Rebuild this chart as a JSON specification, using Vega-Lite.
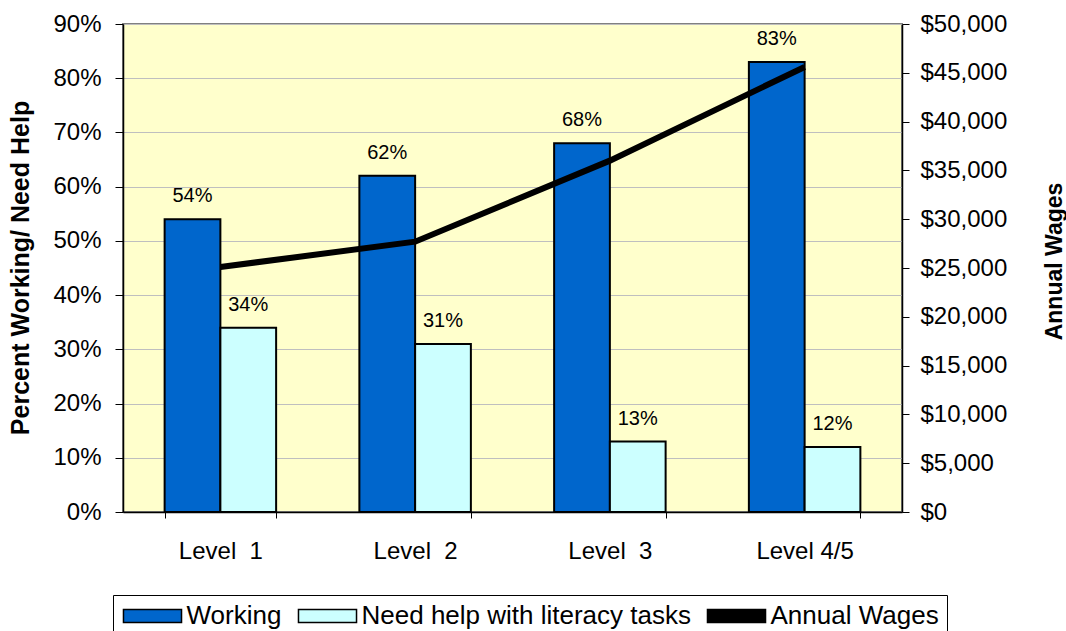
{
  "$schema": "https://vega.github.io/schema/vega-lite/v6.json",
  "width": 779,
  "height": 488,
  "autosize": {"type": "none"},
  "padding": {"left": 123, "top": 24, "right": 164, "bottom": 119},
  "background": "white",
  "config": {
    "font": "Liberation Sans",
    "view": {"fill": "#FFFFCC", "stroke": "#808080", "strokeWidth": 2},
    "axis": {"labelColor": "black", "titleColor": "black", "labelFont": "Liberation Sans", "titleFont": "Liberation Sans"}
  },
  "datasets": {
    "bars": [
      {"level": "Level\u00a0\u00a01", "series": "Working", "pct": 0.54},
      {"level": "Level\u00a0\u00a01", "series": "Need help with literacy tasks", "pct": 0.34},
      {"level": "Level\u00a0\u00a02", "series": "Working", "pct": 0.62},
      {"level": "Level\u00a0\u00a02", "series": "Need help with literacy tasks", "pct": 0.31},
      {"level": "Level\u00a0\u00a03", "series": "Working", "pct": 0.68},
      {"level": "Level\u00a0\u00a03", "series": "Need help with literacy tasks", "pct": 0.13},
      {"level": "Level 4/5", "series": "Working", "pct": 0.83},
      {"level": "Level 4/5", "series": "Need help with literacy tasks", "pct": 0.12}
    ],
    "wages": [
      {"level": "Level\u00a0\u00a01", "wages": 25100},
      {"level": "Level\u00a0\u00a02", "wages": 27700},
      {"level": "Level\u00a0\u00a03", "wages": 36000},
      {"level": "Level 4/5", "wages": 45600}
    ]
  },
  "layer": [
    {
      "data": {"name": "bars"},
      "encoding": {
        "x": {
          "field": "level", "type": "nominal", "sort": null,
          "scale": {"paddingInner": 0.4275, "paddingOuter": 0.21375},
          "axis": {
            "title": null, "tickBand": "extent", "tickSize": 6, "tickColor": "black",
            "domainColor": "black", "domainWidth": 1.5, "labelFontSize": 24,
            "labelPadding": 21, "labelAngle": 0, "grid": false
          }
        },
        "xOffset": {
          "field": "series", "type": "nominal",
          "scale": {"domain": ["Working", "Need help with literacy tasks"], "paddingInner": 0, "paddingOuter": 0}
        },
        "y": {
          "field": "pct", "type": "quantitative",
          "scale": {"domain": [0, 0.9], "nice": false},
          "axis": {
            "title": "Percent Working/ Need Help",
            "values": [0, 0.1, 0.2, 0.3, 0.4, 0.5, 0.6, 0.7, 0.8, 0.9],
            "format": ".0%", "tickSize": 8, "labelPadding": 14, "labelFontSize": 24,
            "grid": true, "gridColor": "#BFBFBF", "gridWidth": 1,
            "domainColor": "black", "domainWidth": 1.5, "tickColor": "black",
            "titleFontSize": 25, "titleFontWeight": "bold", "titleAngle": 270,
            "titleX": -95, "titleY": 243.5, "titleAlign": "center", "titleBaseline": "alphabetic"
          }
        }
      },
      "layer": [
        {
          "mark": {"type": "bar", "stroke": "black", "strokeWidth": 2},
          "encoding": {
            "color": {
              "field": "series", "type": "nominal",
              "scale": {
                "domain": ["Working", "Need help with literacy tasks", "Annual Wages"],
                "range": ["#0066CC", "#CCFFFF", "#000000"]
              },
              "legend": {
                "orient": "none", "legendX": -10, "legendY": 571, "direction": "horizontal",
                "title": null, "labelFontSize": 26, "labelColor": "black", "labelFont": "Liberation Sans",
                "labelLimit": 500,
                "strokeColor": "black", "fillColor": "white", "padding": 8,
                "symbolSize": 225, "symbolType": "M-3.87,-0.87H3.87V0.87H-3.87Z",
                "symbolOffset": 18.5, "labelOffset": 21, "columnPadding": 13,
                "encode": {
                  "symbols": {
                    "shape": {"value": {"expr": "datum.value === 'Annual Wages' ? 'M-3.47,-0.2H3.47V0.2H-3.47Z' : 'M-3.87,-0.87H3.87V0.87H-3.87Z'"}},
                    "stroke": {"value": "black"},
                    "opacity": {"value": 1}
                  }
                }
              }
            }
          }
        },
        {
          "mark": {"type": "text", "dy": -17, "baseline": "alphabetic", "fontSize": 20, "color": "black"},
          "encoding": {"text": {"field": "pct", "type": "quantitative", "format": ".0%"}}
        }
      ]
    },
    {
      "data": {"name": "wages"},
      "mark": {"type": "line", "strokeWidth": 6, "strokeCap": "butt", "color": "black"},
      "encoding": {
        "x": {"field": "level", "type": "nominal", "sort": null},
        "y": {
          "field": "wages", "type": "quantitative",
          "scale": {"domain": [0, 50000], "nice": false},
          "axis": {
            "orient": "right", "title": "Annual Wages",
            "values": [0, 5000, 10000, 15000, 20000, 25000, 30000, 35000, 40000, 45000, 50000],
            "format": "$,d", "tickSize": 7, "labelPadding": 11, "labelFontSize": 24,
            "grid": false, "domainColor": "black", "domainWidth": 1.5, "tickColor": "black",
            "titleFontSize": 23, "titleFontWeight": "bold", "titleAngle": 270,
            "titleX": 159, "titleY": 237, "titleAlign": "center", "titleBaseline": "alphabetic"
          }
        }
      }
    }
  ],
  "resolve": {"scale": {"y": "independent"}}
}
